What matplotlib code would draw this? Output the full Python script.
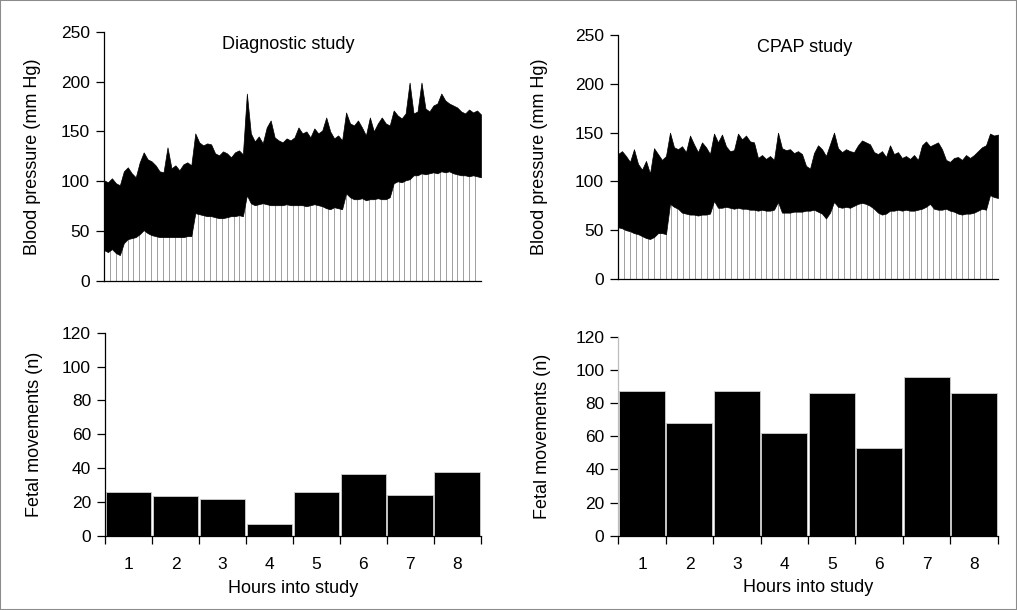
import numpy as np
import matplotlib
matplotlib.use("Agg")
import matplotlib.pyplot as plt
from matplotlib.patches import Rectangle

plt.rcParams["font.family"] = ["Liberation Sans", "DejaVu Sans"]

# blood pressure, one sample every ~5 min over 8 h (mm Hg)
SYS_DIAG = [101, 99, 103, 98, 96, 110, 114, 108, 104, 119, 129, 122,
            120, 116, 110, 109, 134, 113, 116, 111, 117, 119, 116, 148,
            139, 136, 138, 137, 128, 126, 130, 128, 124, 129, 131, 127,
            188, 148, 140, 145, 138, 154, 161, 144, 141, 139, 143, 141,
            144, 154, 148, 150, 144, 153, 148, 151, 164, 150, 143, 146,
            141, 169, 158, 156, 161, 154, 146, 164, 150, 158, 164, 158,
            156, 171, 166, 163, 168, 199, 168, 170, 199, 173, 170, 176,
            178, 188, 181, 178, 176, 174, 170, 168, 172, 169, 171, 167]
DIA_DIAG = [31, 29, 32, 28, 26, 38, 42, 43, 44, 47, 51, 48,
            46, 45, 44, 44, 44, 44, 44, 44, 44, 45, 45, 68,
            67, 66, 65, 65, 64, 63, 63, 64, 65, 65, 66, 65,
            86, 78, 76, 77, 78, 77, 76, 76, 76, 76, 77, 76,
            76, 76, 76, 75, 76, 77, 76, 75, 73, 72, 74, 73,
            72, 88, 84, 82, 82, 83, 81, 82, 82, 83, 82, 82,
            84, 98, 100, 99, 101, 102, 106, 106, 108, 107, 108, 109,
            108, 110, 109, 110, 108, 107, 106, 106, 105, 106, 105, 104]

SYS_CPAP = [128, 131, 126, 120, 133, 118, 112, 121, 108, 134, 128, 122,
            126, 150, 135, 133, 136, 130, 147, 138, 130, 140, 135, 128,
            149, 140, 148, 136, 131, 132, 149, 143, 147, 141, 140, 124,
            127, 123, 126, 122, 150, 134, 132, 133, 129, 131, 128, 116,
            113, 129, 137, 133, 126, 138, 150, 134, 130, 133, 131, 130,
            137, 142, 140, 138, 130, 128, 131, 125, 137, 128, 130, 124,
            126, 123, 127, 122, 137, 141, 136, 138, 140, 133, 122, 120,
            124, 125, 122, 127, 124, 127, 131, 135, 137, 149, 147, 148]
DIA_CPAP = [53, 52, 50, 49, 47, 46, 44, 42, 41, 43, 47, 47,
            46, 77, 74, 72, 68, 67, 66, 66, 65, 66, 66, 67,
            80, 73, 73, 74, 73, 72, 73, 72, 72, 71, 71, 70,
            71, 70, 70, 71, 79, 68, 68, 68, 69, 69, 69, 70,
            70, 71, 69, 67, 62, 68, 79, 74, 73, 74, 73, 75,
            77, 78, 77, 75, 72, 68, 66, 67, 70, 70, 71, 70,
            71, 70, 70, 71, 72, 74, 77, 72, 71, 71, 72, 70,
            69, 67, 66, 67, 67, 68, 70, 72, 71, 86, 84, 83]

# fetal movements per hour
HOURS = [1, 2, 3, 4, 5, 6, 7, 8]
FM_DIAG = [25.6, 23.4, 21.5, 7.1, 25.6, 36.5, 24, 37.6]
FM_CPAP = [87, 68, 87, 62, 86, 53, 96, 86]

FS = 12.5
W, H = 1017, 610


def box(l, t, r, b):
    return [l / W, 1 - b / H, (r - l) / W, (b - t) / H]


def style(ax, ycol="black"):
    for s in ["top", "right"]:
        ax.spines[s].set_visible(False)
    ax.spines["left"].set_color(ycol)
    ax.spines["left"].set_linewidth(0.9)
    ax.spines["bottom"].set_linewidth(0.9)
    ax.tick_params(axis="y", direction="out", length=6, width=0.9,
                   labelsize=FS, pad=4)


def bp_panel(ax, sys_, dia, title):
    t = np.linspace(0, 8, len(sys_))
    ax.vlines(np.arange(0, 8.001, 0.125), 0, 250, color="#a0a0a0",
              lw=0.7, zorder=1)
    ax.fill_between(t, sys_, 260, color="white", lw=0, zorder=2)
    ax.fill_between(t, dia, sys_, color="black", lw=0.5, zorder=3)
    ax.set_xlim(0, 8)
    ax.set_ylim(0, 250)
    ax.set_yticks(range(0, 251, 50))
    ax.set_xticks([])
    style(ax)
    ax.spines["bottom"].set_zorder(4)
    ax.set_ylabel("Blood pressure (mm Hg)", fontsize=13)
    ax.text(0.49, 0.95, title, transform=ax.transAxes, ha="center",
            va="center", fontsize=13)


def fm_panel(ax, vals, ycol):
    ax.bar(HOURS, vals, width=0.97, color="black", edgecolor="#d0d0d0",
           lw=0.6)
    ax.set_xlim(0.5, 8.5)
    ax.set_ylim(0, 120)
    ax.set_yticks(range(0, 121, 20))
    ax.set_xticks(np.arange(0.5, 8.6, 1))
    ax.set_xticklabels([])
    ax.set_xticks(HOURS, minor=True)
    ax.set_xticklabels([str(h) for h in HOURS], minor=True)
    ax.tick_params(axis="x", which="major", direction="out", length=6,
                   width=0.9)
    ax.tick_params(axis="x", which="minor", length=0, labelsize=FS, pad=15)
    style(ax, ycol)
    ax.set_ylabel("Fetal movements (n)", fontsize=13)
    ax.set_xlabel("Hours into study", fontsize=13)
    ax.xaxis.set_label_coords(0.5, -0.22)


fig = plt.figure(figsize=(W / 100, H / 100), dpi=100)

ax1 = fig.add_axes(box(104, 31.7, 481, 281))
bp_panel(ax1, SYS_DIAG, DIA_DIAG, "Diagnostic study")
ax1.yaxis.set_label_coords((41 - 104) / 377, 0.5)

ax2 = fig.add_axes(box(618, 35, 998, 279))
bp_panel(ax2, SYS_CPAP, DIA_CPAP, "CPAP study")
ax2.yaxis.set_label_coords((548 - 618) / 380, 0.5)

ax3 = fig.add_axes(box(105, 332.7, 480.7, 535.7))
fm_panel(ax3, FM_DIAG, "black")
ax3.yaxis.set_label_coords((43 - 105) / 375.7, 0.5)

ax4 = fig.add_axes(box(618.3, 336.7, 997.7, 535.7))
fm_panel(ax4, FM_CPAP, "#bdbdbd")
ax4.yaxis.set_label_coords((551 - 618.3) / 379.4, 0.5)

fig.add_artist(Rectangle((0, 0), 1, 1, transform=fig.transFigure,
                         fill=False, edgecolor="#8c8c8c", lw=1.5))

fig.savefig("out.png", dpi=100)
